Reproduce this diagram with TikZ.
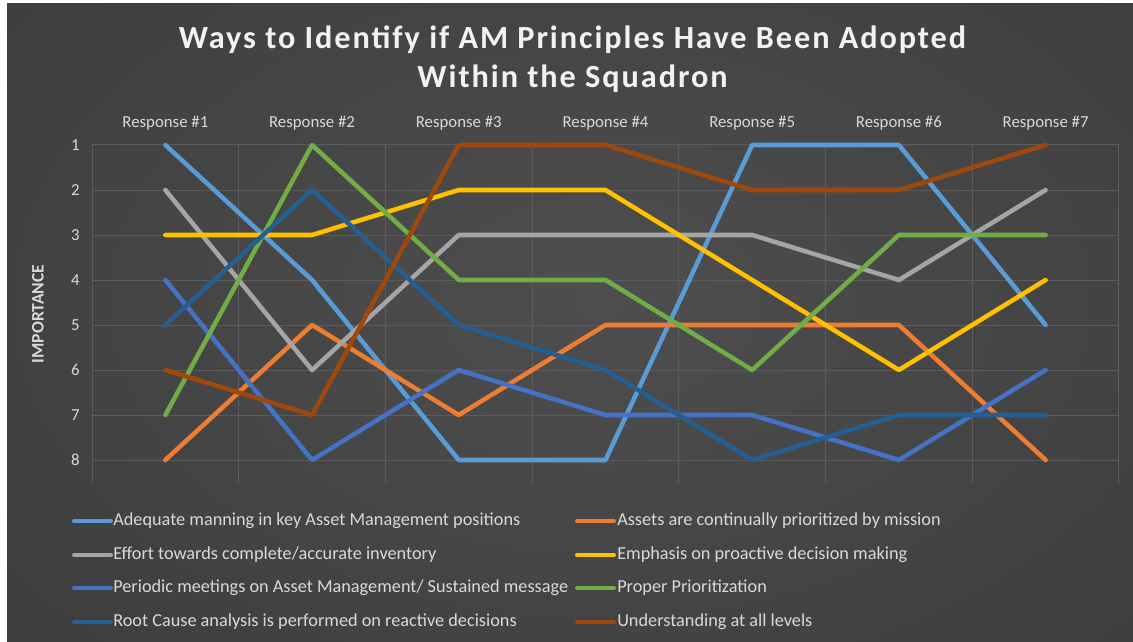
\documentclass[tikz,border=0pt]{standalone}
\usepackage{fontspec}
\setmainfont{Carlito}
\newfontfamily\titlefont[LetterSpace=6]{Carlito}
\definecolor{cA}{HTML}{5B9BD5}
\definecolor{cB}{HTML}{ED7D31}
\definecolor{cC}{HTML}{A5A5A5}
\definecolor{cD}{HTML}{FFC000}
\definecolor{cE}{HTML}{4472C4}
\definecolor{cF}{HTML}{70AD47}
\definecolor{cG}{HTML}{255E91}
\definecolor{cH}{HTML}{9E480E}
\definecolor{txt}{HTML}{D9D9D9}
\definecolor{gridc}{HTML}{5C5C5C}
\definecolor{bgin}{HTML}{4E4E4E}
\definecolor{bgmid}{HTML}{3E3E3E}
\definecolor{bgout}{HTML}{272727}
\pgfdeclareradialshading{bgshade}{\pgfpointorigin}{color(0bp)=(bgin); color(22bp)=(bgmid); color(42bp)=(bgout); color(50bp)=(bgout)}
\newcommand\drawseries[3]{%
  \foreach \v [count=\i] in {#3} {\coordinate (#1-\i) at ({92+146.71*(\i-0.5)},{145+45*(\v-1)});}
  \draw[serline,#2] (#1-1) -- (#1-2) -- (#1-3) -- (#1-4) -- (#1-5) -- (#1-6) -- (#1-7);
}
\begin{document}
\begin{tikzpicture}[x=0.75pt,y=-0.75pt,
  serline/.style={line width=3.4pt,line cap=round,line join=round},
  gridline/.style={draw=gridc,line width=0.75pt},
  cat/.style={text=txt,font=\fontsize{12.6}{14}\selectfont,inner sep=0pt},
  tick/.style={text=txt,font=\fontsize{12.6}{14}\selectfont,inner sep=0pt,anchor=east},
  leg/.style={text=txt,font=\fontsize{13.7}{15}\selectfont,inner sep=0pt,anchor=west},
  legline/.style={line width=3pt,line cap=round}]
\useasboundingbox (0,0) rectangle (1133,642);
\fill[white] (0,0) rectangle (1133,642);
\begin{scope}
\clip (7,4) rectangle (1133,642);
\shade[shading=bgshade] (-250,-250) rectangle (1450,850);
\end{scope}
% grid
\foreach \v in {1,...,8} \draw[gridline] (92,{145+45*(\v-1)}) -- (1119,{145+45*(\v-1)});
\foreach \k in {0,...,7} \draw[gridline] ({92+146.71*\k},145) -- ({92+146.71*\k},483);
% title
\node[text=black!5,font=\titlefont\bfseries\fontsize{24.2}{29.3}\selectfont,align=center,inner sep=0pt] (title) at (572.5,59) {Ways to Identify if AM Principles Have Been Adopted\\Within the Squadron};
% category labels
\foreach \i in {1,...,7} \node[cat] (r\i) at ({92+146.71*(\i-0.5)},123) {Response \#\i};
% value labels
\foreach \v in {1,...,8} \node[tick] (t\v) at (80,{145+45*(\v-1)}) {\v};
\node[text=txt,rotate=90,font=\bfseries\fontsize{13.2}{15}\selectfont,inner sep=0pt] (ytitle) at (38,314) {IMPORTANCE};
% series
\drawseries{sA}{cA}{1,4,8,8,1,1,5}
\drawseries{sB}{cB}{8,5,7,5,5,5,8}
\drawseries{sC}{cC}{2,6,3,3,3,4,2}
\drawseries{sD}{cD}{3,3,2,2,4,6,4}
\drawseries{sE}{cE}{4,8,6,7,7,8,6}
\drawseries{sF}{cF}{7,1,4,4,6,3,3}
\drawseries{sG}{cG}{5,2,5,6,8,7,7}
\drawseries{sH}{cH}{6,7,1,1,2,2,1}
% legend
\foreach \c/\yy/\lab [count=\n] in {
  cA/521/{Adequate manning in key Asset Management positions},
  cC/555/{Effort towards complete/accurate inventory},
  cE/588/{Periodic meetings on Asset Management/ Sustained message},
  cG/622/{Root Cause analysis is performed on reactive decisions}}{
  \coordinate (la\n) at (74,\yy); \coordinate (lb\n) at (111,\yy);
  \draw[legline,\c] (la\n) -- (lb\n);
  \node[leg] (lt\n) at (113,\yy) {\lab};
}
\foreach \c/\yy/\lab [count=\n] in {
  cB/521/{Assets are continually prioritized by mission},
  cD/555/{Emphasis on proactive decision making},
  cF/588/{Proper Prioritization},
  cH/622/{Understanding at all levels}}{
  \coordinate (ma\n) at (577,\yy); \coordinate (mb\n) at (614,\yy);
  \draw[legline,\c] (ma\n) -- (mb\n);
  \node[leg] (mt\n) at (617,\yy) {\lab};
}
\end{tikzpicture}
\end{document}
